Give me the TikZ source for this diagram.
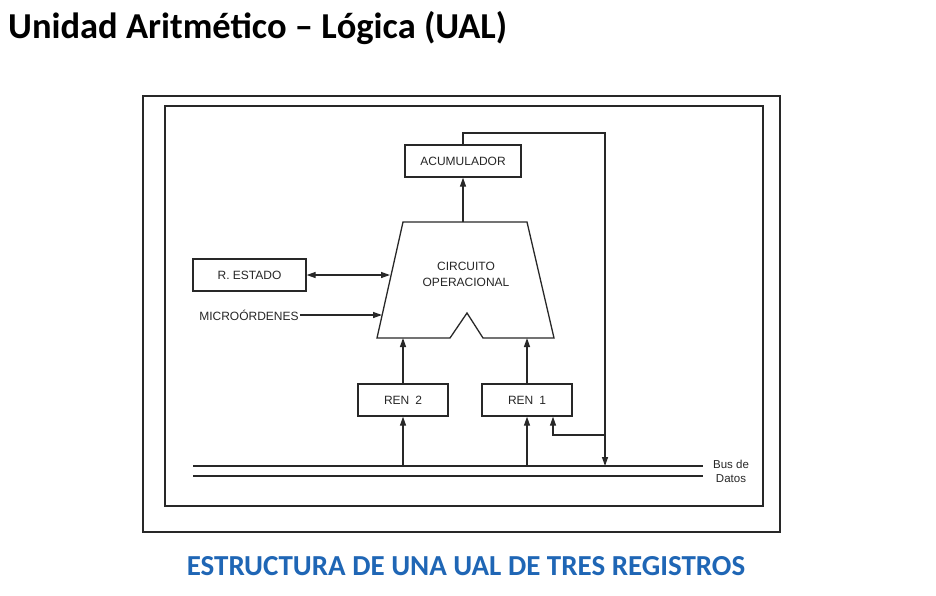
\documentclass[tikz,border=0pt]{standalone}
\usepackage{fontspec}
\setmainfont{Liberation Sans}
\newfontfamily\titlefont{Carlito}
\usepackage{xcolor}
\usepackage{tikz}
\usetikzlibrary{arrows.meta, positioning, calc}
\definecolor{capblue}{RGB}{31,102,181}
\definecolor{inkgray}{RGB}{40,40,40}
\tikzset{
    regbox/.style={rectangle, draw=inkgray, line width=1.3pt, text centered, text=black!85, font=\fontsize{12}{15}\selectfont, inner sep=0pt},
    labeltext/.style={text=black!85, font=\fontsize{12}{15}\selectfont, inner sep=1pt},
    frame/.style={draw=inkgray, line width=2pt},
    arrow/.style={line width=1.3pt, ->, >={Triangle[length=9pt,width=6pt]}, color=inkgray},
    line/.style={line width=1.3pt, color=inkgray}
}

\begin{document}
\begin{tikzpicture}[x=1pt, y=-1pt]
    \useasboundingbox (0,0) rectangle (936,595);

    % Titles
    \node (title) [anchor=west, font=\titlefont\bfseries\fontsize{36.5}{40}\selectfont, inner sep=0pt] at (8,28) {Unidad Aritmético – Lógica (UAL)};
    \node (caption) [font=\titlefont\bfseries\fontsize{29}{32}\selectfont, text=capblue, inner sep=0pt] at (466,566) {ESTRUCTURA DE UNA UAL DE TRES REGISTROS};

    % Frames
    \draw [frame] (143,96) rectangle (780,532);
    \draw [frame] (165,106) rectangle (763,506);

    % Circuito operacional
    \coordinate (alu-tl) at (403,222);
    \coordinate (alu-tr) at (527,222);
    \coordinate (alu-br) at (554,338);
    \coordinate (alu-bl) at (377,338);
    \draw [line] (alu-tl) -- (alu-tr) -- (alu-br) -- (483,338) -- (467,313) -- (450,338) -- (alu-bl) -- cycle;
    \node (alu) [labeltext, align=center, font=\fontsize{12}{16}\selectfont] at (466,274) {CIRCUITO\\OPERACIONAL};
    \coordinate (alu-top) at (463,222);
    \coordinate (alu-in1) at (390,275);
    \coordinate (alu-in2) at (382,315);

    % Nodes
    \node (acc) [regbox, minimum width=116pt, minimum height=32pt] at (463,161) {ACUMULADOR};
    \node (estado) [regbox, minimum width=113pt, minimum height=32pt] at (249.5,275) {R. ESTADO};
    \node (micro) [labeltext] at (249,315) {MICROÓRDENES};
    \node (ren2) [regbox, minimum width=90pt, minimum height=32pt] at (403,400) {REN\enspace 2};
    \node (ren1) [regbox, minimum width=90pt, minimum height=32pt] at (527,400) {REN\enspace 1};

    % Bus de datos
    \coordinate (bus-w) at (193,466);
    \coordinate (bus-e) at (703,466);
    \draw [line] (bus-w) -- (bus-e);
    \draw [line] ($(bus-w)+(0,10)$) -- ($(bus-e)+(0,10)$);
    \node (buslbl) [labeltext, align=center, font=\fontsize{11.5}{14}\selectfont] at (731,471) {Bus de\\Datos};

    % Arrows
    \draw [arrow] (alu-top) -- (acc);
    \draw [arrow, <->] (estado) -- (alu-in1);
    \draw [arrow] (micro) -- (alu-in2);

    \draw [arrow] (ren2) -- (ren2.north |- alu-bl);
    \draw [arrow] (ren1) -- (ren1.north |- alu-br);
    \draw [arrow] (ren2.south |- bus-w) -- (ren2);
    \draw [arrow] (ren1.south |- bus-w) -- (ren1);

    \coordinate (fb) at (605,133);
    \coordinate (tap) at (605,435);
    \draw [arrow] (acc.north) |- (fb) -- (fb |- bus-w);
    \draw [arrow] (tap) -| ([xshift=26pt]ren1.south);
\end{tikzpicture}
\end{document}
